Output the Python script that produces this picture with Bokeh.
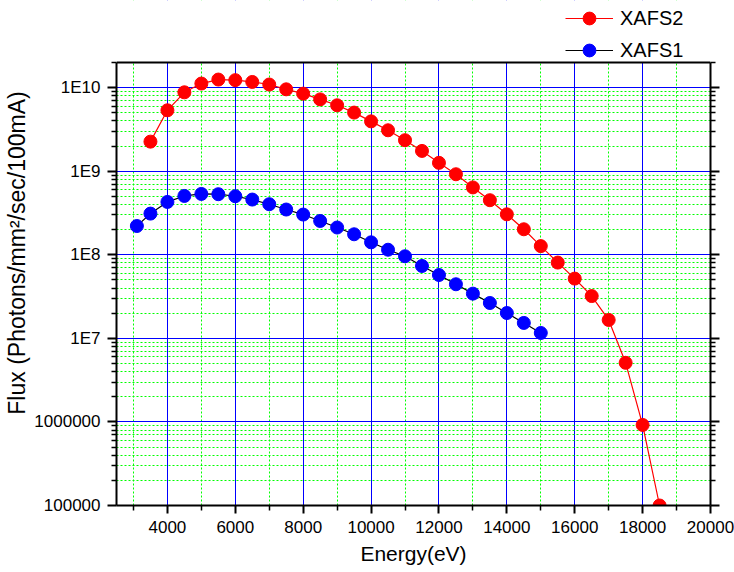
from bokeh.plotting import figure
from bokeh.models import (FixedTicker, LogAxis, Legend, LegendItem,
                          CustomJSTickFormatter, BoxAnnotation, Span)
from bokeh.embed import file_html
from bokeh.resources import INLINE
import math

# ---- data ----
xafs2_energy = [3500, 4000, 4500, 5000, 5500, 6000, 6500, 7000, 7500, 8000,
                8500, 9000, 9500, 10000, 10500, 11000, 11500, 12000, 12500,
                13000, 13500, 14000, 14500, 15000, 15500, 16000, 16500, 17000,
                17500, 18000, 18500]
xafs2_flux = [2.26e9, 5.36e9, 8.8e9, 1.12e10, 1.25e10, 1.23e10, 1.17e10,
              1.09e10, 9.55e9, 8.48e9, 7.24e9, 6.15e9, 5.03e9, 3.95e9, 3.09e9,
              2.35e9, 1.75e9, 1.26e9, 9.2e8, 6.4e8, 4.5e8, 3.05e8, 2.02e8,
              1.27e8, 8.07e7, 5.19e7, 3.21e7, 1.66e7, 5.1e6, 9.2e5, 1.0e5]

xafs1_energy = [3100, 3500, 4000, 4500, 5000, 5500, 6000, 6500, 7000, 7500,
                8000, 8500, 9000, 9500, 10000, 10500, 11000, 11500, 12000,
                12500, 13000, 13500, 14000, 14500, 15000]
xafs1_flux = [2.21e8, 3.11e8, 4.29e8, 5.06e8, 5.35e8, 5.31e8, 5.02e8, 4.58e8,
              4.03e8, 3.48e8, 3.03e8, 2.54e8, 2.12e8, 1.76e8, 1.41e8, 1.15e8,
              9.6e7, 7.35e7, 5.73e7, 4.44e7, 3.43e7, 2.65e7, 2.01e7, 1.53e7,
              1.16e7]

x_major_ticks = [4000, 6000, 8000, 10000, 12000, 14000, 16000, 18000, 20000]
x_minor_ticks = [3000, 5000, 7000, 9000, 11000, 13000, 15000, 17000, 19000]
y_major_ticks = [1e5, 1e6, 1e7, 1e8, 1e9, 1e10]
y_minor_ticks = [k * d for d in [1e5, 1e6, 1e7, 1e8, 1e9] for k in range(2, 10)] + [2e10]

Y_MIN, Y_MAX = 1e5, 2e10          # visible axis extent
FONT = "Liberation Sans"

# layout (canvas px): data box from top=62 to bottom=505; frame extended to top
W, H = 734, 572
BOX_LEFT, BOX_RIGHT = 116, 710
BOX_TOP, BOX_BOTTOM = 62, 505
decades = math.log10(Y_MAX) - math.log10(Y_MIN)
px_per_dec = (BOX_BOTTOM - BOX_TOP) / decades
frame_top_val = 10 ** (math.log10(Y_MIN) + BOX_BOTTOM / px_per_dec)

p = figure(width=W, height=H, y_axis_type="log",
           x_range=(2500, 20000), y_range=(Y_MIN, frame_top_val),
           output_backend="svg", toolbar_location=None,
           min_border_left=BOX_LEFT, min_border_right=W - BOX_RIGHT,
           min_border_top=0, min_border_bottom=H - BOX_BOTTOM,
           background_fill_color="white", border_fill_color="white")

p.outline_line_color = None

xt = FixedTicker(ticks=x_major_ticks, minor_ticks=x_minor_ticks)
yt = FixedTicker(ticks=y_major_ticks, minor_ticks=y_minor_ticks)

p.xaxis.ticker = xt
p.yaxis.ticker = yt
p.yaxis.bounds = (Y_MIN, Y_MAX)
p.yaxis.formatter = CustomJSTickFormatter(code="""
const e = Math.round(Math.log10(tick));
return e >= 7 ? '1E' + e : String(Math.round(tick));
""")

for ax in (p.xaxis, p.yaxis):
    ax.axis_line_width = 2
    ax.axis_line_color = "black"
    ax.major_tick_line_width = 2
    ax.minor_tick_line_width = 1.5
    ax.major_tick_in = 0
    ax.minor_tick_in = 0
    ax.major_label_text_font = FONT
    ax.major_label_text_font_size = "17px"
    ax.major_label_text_color = "black"
    ax.axis_label_text_font = FONT
    ax.axis_label_text_font_style = "normal"
    ax.axis_label_text_color = "black"

p.xaxis.axis_label_text_font_size = "21px"
p.yaxis.axis_label_text_font_size = "23px"
p.xaxis.major_tick_out = 8
p.xaxis.minor_tick_out = 5
p.yaxis.major_tick_out = 9
p.yaxis.minor_tick_out = 5
p.xaxis.major_label_standoff = 7
p.yaxis.major_label_standoff = 7
p.xaxis.axis_label = "Energy(eV)"
p.yaxis.axis_label = "Flux (Photons/mm\u00b2/sec/100mA)"
p.xaxis.axis_label_standoff = 6
p.yaxis.axis_label_standoff = 1

right_axis = LogAxis(ticker=FixedTicker(ticks=y_major_ticks, minor_ticks=y_minor_ticks),
                     formatter=CustomJSTickFormatter(code="return '';"),
                     bounds=(Y_MIN, Y_MAX),
                     axis_line_width=2, major_tick_line_width=2,
                     minor_tick_line_width=1.5, major_tick_in=0, minor_tick_in=0,
                     major_tick_out=9, minor_tick_out=5,
                     major_label_standoff=0,
                     major_label_text_font_size="1px")
p.add_layout(right_axis, "right")

for g in (p.xgrid, p.ygrid):
    g.grid_line_color = "#0000ff"
    g.grid_line_alpha = 1.0
    g.grid_line_width = 1
    g.minor_grid_line_color = "#00ff00"
    g.minor_grid_line_dash = "2 2"
    g.minor_grid_line_width = 1

# white mask above the data box (covers grid lines there) and the top border
p.add_layout(BoxAnnotation(bottom=Y_MAX, fill_color="white", fill_alpha=1,
                           line_color=None, level="underlay"))
p.add_layout(Span(location=Y_MAX, dimension="width", line_color="black",
                  line_width=2))

l2 = p.line(xafs2_energy, xafs2_flux, line_color="red", line_width=1.2)
s2 = p.scatter(xafs2_energy, xafs2_flux, size=13, fill_color="red",
               line_color="red", marker="circle")
l1 = p.line(xafs1_energy, xafs1_flux, line_color="black", line_width=1.2)
s1 = p.scatter(xafs1_energy, xafs1_flux, size=13, fill_color="blue",
               line_color="blue", marker="circle")

legend = Legend(items=[LegendItem(label="XAFS2", renderers=[l2, s2]),
                       LegendItem(label="XAFS1", renderers=[l1, s1])],
                location=(565 - BOX_LEFT, BOX_BOTTOM - 66),
                padding=0, margin=0, spacing=-5,
                glyph_width=48, glyph_height=32, label_height=32,
                label_standoff=7, label_text_font=FONT,
                label_text_color="black",
                label_text_font_size="20px", border_line_color=None,
                background_fill_alpha=0)
p.add_layout(legend, "center")

open("out.html", "w").write(file_html(p, INLINE))
